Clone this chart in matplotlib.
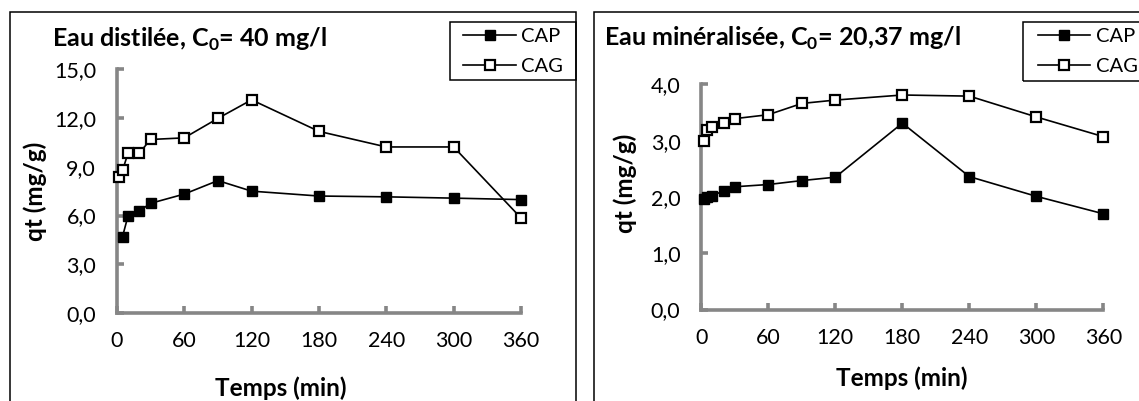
import matplotlib
matplotlib.use("Agg")
import matplotlib.pyplot as plt
from matplotlib.patches import Rectangle
from matplotlib.lines import Line2D
from matplotlib.ticker import FixedLocator, FuncFormatter

plt.rcParams["font.family"] = ["Lato", "DejaVu Sans"]
plt.rcParams["mathtext.fontset"] = "custom"
plt.rcParams["mathtext.rm"] = "Lato"
plt.rcParams["mathtext.bf"] = "Lato:bold"

# Contact time (min)
t_cap_dist = [5, 10, 20, 30, 60, 90, 120, 180, 240, 300, 360]
t_cag_dist = [2, 5, 10, 20, 30, 60, 90, 120, 180, 240, 300, 360]
t_min = [2, 5, 10, 20, 30, 60, 90, 120, 180, 240, 300, 360]

# Adsorbed quantity qt (mg/g) - distilled water, C0 = 40 mg/l
qt_cap_dist = [4.7, 6.0, 6.28, 6.75, 7.32, 8.15, 7.5, 7.2, 7.15, 7.07, 6.98]
qt_cag_dist = [8.4, 8.78, 9.85, 9.85, 10.68, 10.78, 11.98, 13.12, 11.18, 10.22, 10.22, 5.85]

# Adsorbed quantity qt (mg/g) - mineralised water, C0 = 20,37 mg/l
qt_cap_min = [1.97, 1.99, 2.02, 2.11, 2.18, 2.22, 2.29, 2.35, 3.31, 2.36, 2.01, 1.70]
qt_cag_min = [3.0, 3.19, 3.25, 3.32, 3.39, 3.46, 3.66, 3.72, 3.81, 3.79, 3.42, 3.07]

x_ticks = [0, 60, 120, 180, 240, 300, 360]
y_ticks_dist = [0, 3, 6, 9, 12, 15]
y_ticks_min = [0, 1, 2, 3, 4]

titles = [r"Eau distilée, C$_{\mathbf{0}}$= 40 mg/l",
          r"Eau minéralisée, C$_{\mathbf{0}}$= 20,37 mg/l"]
series_labels = ["CAP", "CAG"]
x_label = "Temps (min)"
y_label = "qt (mg/g)"

W, H = 1139, 401
fig = plt.figure(figsize=(W / 100, H / 100), dpi=100)

AXIS_GREY = "#868686"
TICK_FS = 15.5
LABEL_FS = 17.5
TITLE_FS = 18
LEGEND_FS = 14.5

CAP_STYLE = dict(color="black", linewidth=1.2, marker="s", markersize=7.2,
                 markerfacecolor="black", markeredgecolor="black")
CAG_STYLE = dict(color="black", linewidth=1.2, marker="s", markersize=6.5,
                 markerfacecolor="white", markeredgecolor="black",
                 markeredgewidth=1.6)


def fx(px):
    return px / W


def fy(py):
    return 1 - py / H


def comma_fmt(v, pos):
    return f"{v:.1f}".replace(".", ",")


def draw_legend(box, line_x, text_x, rows):
    x0, y0, x1, y1 = box
    fig.add_artist(Rectangle((fx(x0), fy(y1)), fx(x1 - x0), fy(y0) - fy(y1),
                             transform=fig.transFigure, fill=False,
                             edgecolor="black", linewidth=1.1, clip_on=False,
                             zorder=5))
    for label, style, ry in zip(series_labels, (CAP_STYLE, CAG_STYLE), rows):
        fig.add_artist(Line2D([fx(line_x[0]), fx(line_x[1])], [fy(ry), fy(ry)],
                              transform=fig.transFigure, zorder=6,
                              **{k: v for k, v in style.items() if k != "marker"}))
        fig.add_artist(Line2D([fx((line_x[0] + line_x[1]) / 2)], [fy(ry)],
                              transform=fig.transFigure, zorder=7,
                              linestyle="none",
                              **{k: v for k, v in style.items()
                                 if k not in ("linewidth",)}))
        fig.text(fx(text_x), fy(ry), label, fontsize=LEGEND_FS,
                 ha="left", va="center_baseline", zorder=7)


def draw_panel(rect, frame, title_xy, xlabel_xy, ylabel_xy,
               t_cap, q_cap, t_cag, q_cag, ymax, yticks, title):
    # outer chart frame (runs past the bottom / right edge)
    fig.add_artist(Rectangle((fx(frame[0]), fy(frame[3])),
                             fx(frame[2] - frame[0]), fy(frame[1]) - fy(frame[3]),
                             transform=fig.transFigure, fill=False,
                             edgecolor="black", linewidth=1.1, clip_on=False))
    ax = fig.add_axes(rect)
    ax.plot(t_cap, q_cap, label=series_labels[0], clip_on=False, zorder=3,
            **CAP_STYLE)
    ax.plot(t_cag, q_cag, label=series_labels[1], clip_on=False, zorder=3,
            **CAG_STYLE)
    ax.set_xlim(0, 360)
    ax.set_ylim(0, ymax)
    ax.xaxis.set_major_locator(FixedLocator(x_ticks))
    ax.yaxis.set_major_locator(FixedLocator(yticks))
    ax.yaxis.set_major_formatter(FuncFormatter(comma_fmt))
    for side in ("top", "right"):
        ax.spines[side].set_visible(False)
    for side in ("left", "bottom"):
        ax.spines[side].set_color(AXIS_GREY)
        ax.spines[side].set_linewidth(2.6)
    ax.tick_params(direction="in", length=5, width=2.6, color=AXIS_GREY,
                   labelsize=TICK_FS, labelcolor="black")
    ax.tick_params(axis="x", pad=13)
    ax.tick_params(axis="y", pad=15)
    ax.patch.set_alpha(0)

    fig.text(fx(title_xy[0]), fy(title_xy[1]), title, fontsize=TITLE_FS,
             fontweight="bold", ha="left", va="baseline")
    fig.text(fx(xlabel_xy[0]), fy(xlabel_xy[1]), x_label, fontsize=LABEL_FS,
             fontweight="bold", ha="center", va="center")
    fig.text(fx(ylabel_xy[0]), fy(ylabel_xy[1]), y_label, fontsize=LABEL_FS,
             fontweight="bold", ha="center", va="center", rotation=90)
    return ax


draw_panel([fx(116.9), fy(313), fx(521) - fx(116.9), fy(69.3) - fy(313)],
           (10, 12, 576, 420), (52, 47), (281, 388), (35, 191),
           t_cap_dist, qt_cap_dist, t_cag_dist, qt_cag_dist, 15, y_ticks_dist,
           titles[0])
draw_panel([fx(701.3), fy(309.5), fx(1103.4) - fx(701.3), fy(84.3) - fy(309.5)],
           (594, 12, 1160, 420), (604, 46), (902, 378), (625, 183),
           t_min, qt_cap_min, t_min, qt_cag_min, 4, y_ticks_min,
           titles[1])

draw_legend((449.5, 22, 576, 80), (463, 516), 521, (35, 65))
draw_legend((1022.5, 22, 1160, 81), (1038, 1090), 1096, (35, 65))

fig.savefig("out.png", dpi=100)
